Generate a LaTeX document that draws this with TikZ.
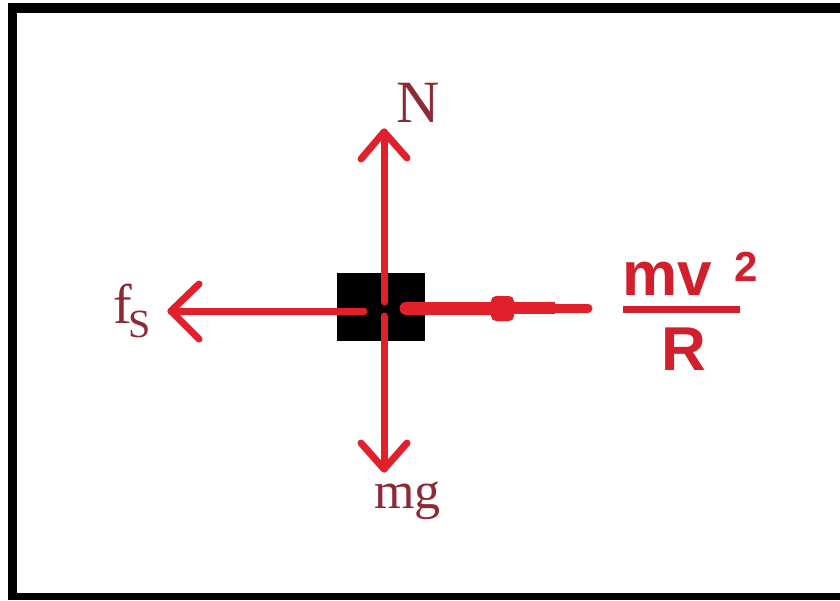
\documentclass[tikz,border=0pt]{standalone}
\usepackage{fontspec}
\newfontfamily\labserif{Liberation Serif}
\newfontfamily\labsans{Liberation Sans}
\definecolor{arrowred}{HTML}{E2202B}
\definecolor{labelred}{HTML}{8E2A35}
\definecolor{fracred}{HTML}{D21F2E}
\begin{document}
\begin{tikzpicture}[x=1pt,y=-1pt,
  force/.style={arrowred, line width=7pt, line cap=round, line join=round},
  serlab/.style={labelred, inner sep=0pt, anchor=base west, font=\labserif},
  fraclab/.style={fracred, inner sep=0pt, anchor=base west, font=\labsans\bfseries}]
\useasboundingbox (0,0) rectangle (840,600);
\fill[white] (0,0) rectangle (840,600);
% frame
\fill[black] (8,3) rectangle (840,13);
\fill[black] (8,3) rectangle (17,600);
\fill[black] (8,593) rectangle (840,600);
% block
\node[fill=black, minimum width=88pt, minimum height=68pt, inner sep=0pt] (block) at (381,307) {};
% coordinates
\coordinate (upTip) at (384,132);
\coordinate (upL) at (361,159);
\coordinate (upR) at (407,158);
\coordinate (upEnd) at (384,302);
\coordinate (dnStart) at (384,316);
\coordinate (dnTip) at (384,469);
\coordinate (dnL) at (361,443);
\coordinate (dnR) at (407,443);
\coordinate (lfStart) at (364,311);
\coordinate (lfTip) at (171,311);
\coordinate (lfU) at (199,284);
\coordinate (lfD) at (199,339);
\coordinate (rtStart) at (406,308);
\coordinate (rtA) at (495,308);
\coordinate (rtB) at (555,308);
\coordinate (rtTip) at (588,308);
% N arrow
\draw[force] (upEnd) -- (upTip);
\draw[force] (upL) -- (upTip) -- (upR);
% mg arrow
\draw[force] (dnStart) -- (dnTip);
\draw[force] (dnL) -- (dnTip) -- (dnR);
% friction arrow
\draw[force] (lfStart) -- (lfTip);
\draw[force] (lfU) -- (lfTip) -- (lfD);
% centripetal arrow (thick, tapered)
\draw[arrowred, line width=13pt, line cap=round] (rtStart) -- (rtA);
\fill[arrowred, rounded corners=5pt] (491,296) rectangle (514,321);
\draw[arrowred, line width=12pt] (rtA) -- (rtB);
\draw[arrowred, line width=9pt, line cap=round] (rtB) -- (rtTip);
% labels
\node[serlab, font=\labserif\fontsize{60}{60}\selectfont] (N) at (396,122) {N};
\node[serlab, font=\labserif\fontsize{52}{52}\selectfont] (mg) at (374,508) {mg};
\node[serlab, font=\labserif\fontsize{56}{56}\selectfont] (fs) at (113,323)
  {f\kern-3pt\raisebox{-14pt}{\fontsize{40}{40}\selectfont S}};
\node[fraclab, font=\labsans\bfseries\fontsize{62}{62}\selectfont] (mv) at (622,295) {mv};
\node[fraclab, font=\labsans\bfseries\fontsize{42}{42}\selectfont] (two) at (734,281) {2};
\draw[fracred, line width=7pt] (623,309) -- (740,309);
\node[fraclab, font=\labsans\bfseries\fontsize{62}{62}\selectfont] (R) at (661,370) {R};
\end{tikzpicture}
\end{document}
